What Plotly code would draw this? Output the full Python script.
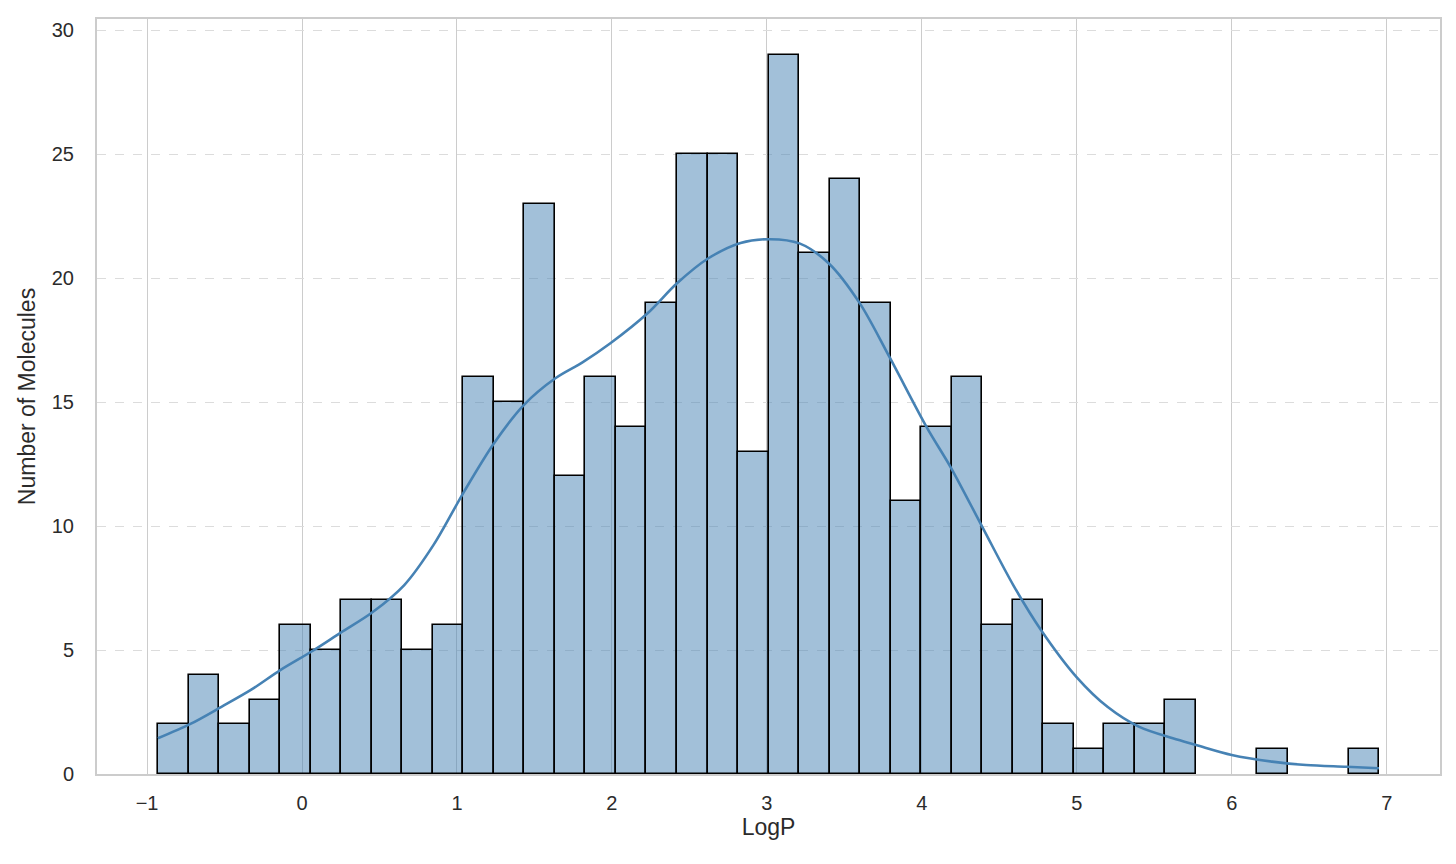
import plotly.graph_objects as go

# ---- data ----
bin_start = -0.929
bin_width = 0.197
counts = [2, 4, 2, 3, 6, 5, 7, 7, 5, 6,
          16, 15, 23, 12, 16, 14, 19, 25, 25, 13,
          29, 21, 24, 19, 11, 14, 16, 6, 7, 2,
          1, 2, 2, 3, 0, 0, 1, 0, 0, 1]

kde_x = [-0.93, -0.72, -0.52, -0.33, -0.14, 0.07, 0.25, 0.45, 0.66, 0.85,
         1.045, 1.238, 1.431, 1.635, 1.81, 1.99, 2.23, 2.42, 2.62,
         2.83, 3.02, 3.21, 3.40, 3.60, 3.79, 4.03, 4.19, 4.39, 4.59,
         4.77, 5.00, 5.20, 5.40, 5.62, 5.77, 6.00, 6.26, 6.48, 6.74, 6.95]
kde_y = [1.44, 2.02, 2.71, 3.39, 4.19, 4.97, 5.70, 6.50, 7.62, 9.25,
         11.38, 13.33, 14.88, 15.96, 16.60, 17.37, 18.58, 19.79, 20.79,
         21.42, 21.57, 21.40, 20.59, 18.98, 16.83, 14.00, 12.33, 9.97, 7.62,
         5.80, 3.90, 2.70, 1.91, 1.44, 1.17, 0.77, 0.50, 0.36, 0.29, 0.23]

x_ticks = [-1, 0, 1, 2, 3, 4, 5, 6, 7]
y_ticks = [0, 5, 10, 15, 20, 25, 30]
x_label = "LogP"
y_label = "Number of Molecules"

bin_centers = [bin_start + bin_width * (i + 0.5) for i in range(len(counts))]
edge_widths = [1.6 if c > 0 else 0 for c in counts]

fig = go.Figure()
fig.add_trace(go.Bar(
    x=bin_centers, y=counts, width=[bin_width] * len(counts),
    marker=dict(color="rgba(70,130,180,0.5)",
                line=dict(color="black", width=edge_widths)),
    showlegend=False, hoverinfo="x+y",
))
fig.add_trace(go.Scatter(
    x=kde_x, y=kde_y, mode="lines",
    line=dict(color="#4682b4", width=2.6, shape="spline", smoothing=0.9),
    showlegend=False,
))

font_family = "Liberation Sans, Arial, sans-serif"
fig.update_layout(
    width=1456, height=864,
    margin=dict(l=89, r=24, t=9, b=98),
    paper_bgcolor="white", plot_bgcolor="white",
    bargap=0,
    font=dict(family=font_family, color="#2b2b2b", size=20),
    xaxis=dict(
        range=[-1.323, 7.344], tickvals=x_ticks,
        ticktext=["\u22121", "0", "1", "2", "3", "4", "5", "6", "7"],
        showgrid=True, gridcolor="#cccccc", gridwidth=1.3,
        zeroline=False, showline=True, mirror=True,
        linecolor="#cccccc", linewidth=2,
        ticks="", ticklabelstandoff=10,
        tickfont=dict(size=20, color="#2b2b2b"),
        title=dict(text=x_label, font=dict(size=23, color="#2b2b2b"), standoff=4),
    ),
    yaxis=dict(
        range=[0, 30.45], tickvals=y_ticks,
        showgrid=True, gridcolor="#dcdcdc", gridwidth=1.3, griddash="dash",
        zeroline=False, showline=True, mirror=True,
        linecolor="#cccccc", linewidth=2,
        ticks="", ticklabelstandoff=17,
        tickfont=dict(size=20, color="#2b2b2b"),
        title=dict(text=y_label, font=dict(size=23, color="#2b2b2b"), standoff=10),
    ),
)

fig.write_html("out.html")
